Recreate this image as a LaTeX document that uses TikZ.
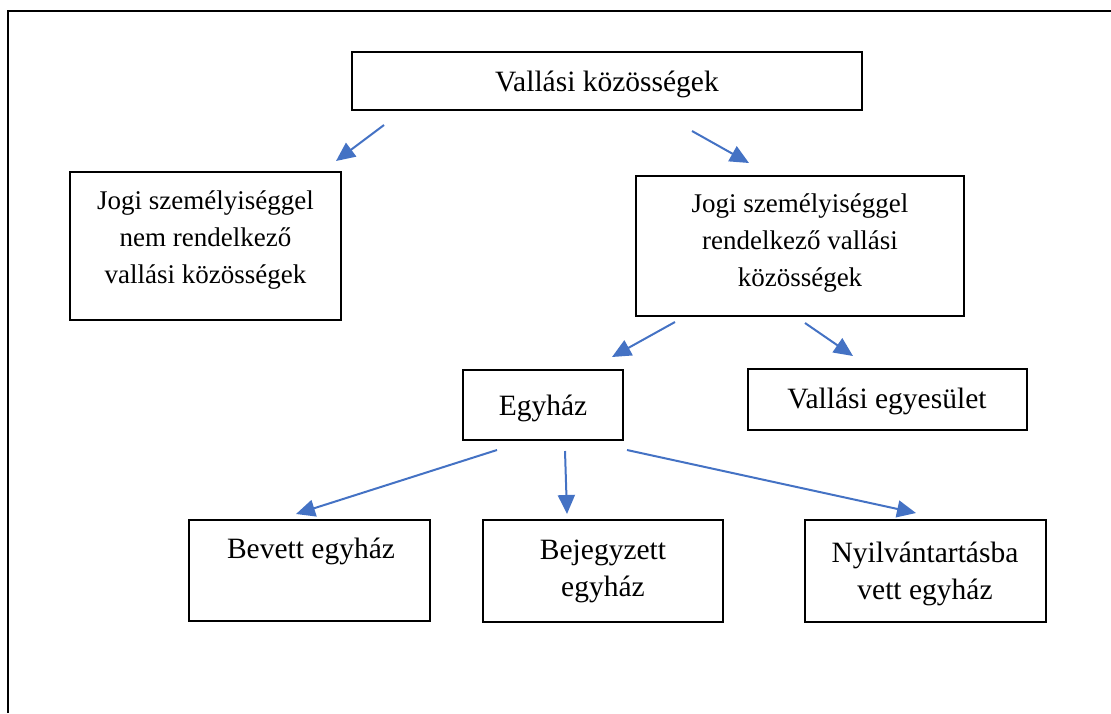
\documentclass[tikz,border=0pt]{standalone}
\usepackage{fontspec}
\setmainfont{Liberation Serif}
\usetikzlibrary{arrows.meta}
\definecolor{arrowblue}{RGB}{68,114,196}
\begin{document}
\begin{tikzpicture}[x=1pt,y=-1pt,
  box/.style={draw=black, line width=1.3pt, inner sep=0pt},
  lbl/.style={align=center, inner sep=0pt, font=\fontsize{29.5}{37}\selectfont},
  lblsmall/.style={align=center, inner sep=0pt, font=\fontsize{27}{37}\selectfont},
  arr/.style={draw=arrowblue, line width=2pt, -{Triangle[length=19pt,width=17pt]}}]
\useasboundingbox (0,0) rectangle (1111,713);
\draw[line width=2pt] (8,713) -- (8,11) -- (1111,11);

% boxes
\node[box, minimum width=510pt, minimum height=58pt] (top) at (607,81) {};
\node[box, minimum width=271pt, minimum height=148pt] (nojog) at (205.5,246) {};
\node[box, minimum width=328pt, minimum height=140pt] (jog) at (800,246) {};
\node[box, minimum width=160pt, minimum height=70pt] (egyhaz) at (543,405) {};
\node[box, minimum width=279pt, minimum height=61pt] (egyes) at (887.5,399.5) {};
\node[box, minimum width=241pt, minimum height=101pt] (bevett) at (309.5,570.5) {};
\node[box, minimum width=240pt, minimum height=102pt] (bejegy) at (603,571) {};
\node[box, minimum width=241pt, minimum height=102pt] (nyilv) at (925.5,571) {};

% texts
\node[lbl] (ttop) at (607,84) {Vallási közösségek};
\node[lblsmall] (tnojog) at (205.5,240) {Jogi személyiséggel\\nem rendelkező\\vallási közösségek};
\node[lblsmall] (tjog) at (800,243) {Jogi személyiséggel\\rendelkező vallási\\közösségek};
\node[lbl] (tegyhaz) at (543,408) {Egyház};
\node[lbl] (tegyes) at (887,401) {Vallási egyesület};
\node[lbl] (tbevett) at (311,551) {Bevett egyház};
\node[lbl] (tbejegy) at (603,571) {Bejegyzett\\egyház};
\node[lbl] (tnyilv) at (925,574) {Nyilvántartásba\\vett egyház};

% arrow end points
\coordinate (a1s) at (384,125); \coordinate (a1e) at (336,161);
\coordinate (a2s) at (692,131); \coordinate (a2e) at (749,163);
\coordinate (a3s) at (675,322); \coordinate (a3e) at (612,357);
\coordinate (a4s) at (805,323); \coordinate (a4e) at (853,356);
\coordinate (a5s) at (497,450); \coordinate (a5e) at (296,514);
\coordinate (a6s) at (565,451); \coordinate (a6e) at (567,514);
\coordinate (a7s) at (627,450); \coordinate (a7e) at (916,513);

\draw[arr] (a1s) -- (a1e);
\draw[arr] (a2s) -- (a2e);
\draw[arr] (a3s) -- (a3e);
\draw[arr] (a4s) -- (a4e);
\draw[arr] (a5s) -- (a5e);
\draw[arr] (a6s) -- (a6e);
\draw[arr] (a7s) -- (a7e);
\end{tikzpicture}
\end{document}
